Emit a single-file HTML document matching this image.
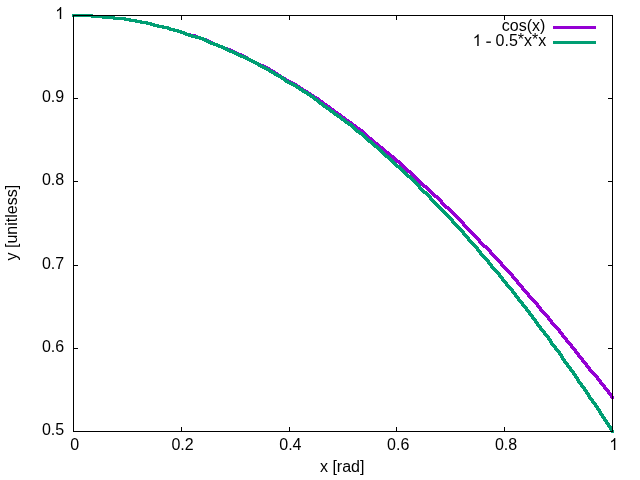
<!DOCTYPE html>
<html><head><meta charset="utf-8"><style>
html,body{margin:0;padding:0;background:#fff;}
svg{display:block;will-change:transform}
text{font-family:"Liberation Sans",sans-serif;font-size:16px;fill:#000}
</style></head><body>
<svg width="640" height="480" viewBox="0 0 640 480">
<rect width="640" height="480" fill="#fff"/>
<g shape-rendering="crispEdges">
<path fill="#9400d3" d="M72,14h21v1h-21zM72,15h32v1h-32zM72,16h43v1h-43zM91,17h35v1h-35zM102,18h29v1h-29zM113,19h24v1h-24zM124,20h18v1h-18zM129,21h19v1h-19zM135,22h17v1h-17zM140,23h15v1h-15zM146,24h13v1h-13zM150,25h14v1h-14zM153,26h16v1h-16zM157,27h14v1h-14zM162,28h13v1h-13zM167,29h12v1h-12zM169,30h13v1h-13zM173,31h12v1h-12zM177,32h10v1h-10zM180,33h11v1h-11zM183,34h13v1h-13zM185,35h13v1h-13zM189,36h12v1h-12zM194,37h10v1h-10zM196,38h11v1h-11zM199,39h10v1h-10zM202,40h9v1h-9zM205,41h8v1h-8zM207,42h8v1h-8zM209,43h9v1h-9zM211,44h9v1h-9zM213,45h10v1h-10zM216,46h9v1h-9zM218,47h10v1h-10zM221,48h10v1h-10zM223,49h10v1h-10zM226,50h9v1h-9zM229,51h8v1h-8zM231,52h8v1h-8zM233,53h9v1h-9zM235,54h9v1h-9zM237,55h9v1h-9zM240,56h8v1h-8zM242,57h7v1h-7zM244,58h7v1h-7zM246,59h7v1h-7zM247,60h8v1h-8zM249,61h8v1h-8zM251,62h8v1h-8zM253,63h8v1h-8zM255,64h9v1h-9zM257,65h9v1h-9zM259,66h9v1h-9zM262,67h8v1h-8zM264,68h7v1h-7zM266,69h7v1h-7zM268,70h7v1h-7zM269,71h7v1h-7zM271,72h7v1h-7zM273,73h6v1h-6zM274,74h7v1h-7zM276,75h6v1h-6zM277,76h7v1h-7zM279,77h7v1h-7zM280,78h7v1h-7zM282,79h7v1h-7zM284,80h7v1h-7zM285,81h8v1h-8zM287,82h8v1h-8zM289,83h8v1h-8zM291,84h7v1h-7zM293,85h7v1h-7zM295,86h6v1h-6zM296,87h7v1h-7zM298,88h6v1h-6zM299,89h7v1h-7zM301,90h7v1h-7zM302,91h7v1h-7zM304,92h7v1h-7zM306,93h6v1h-6zM307,94h7v1h-7zM309,95h6v1h-6zM310,96h7v1h-7zM312,97h7v1h-7zM313,98h7v1h-7zM315,99h6v1h-6zM317,100h6v1h-6zM318,101h6v1h-6zM319,102h6v1h-6zM321,103h6v1h-6zM322,104h6v1h-6zM323,105h7v1h-7zM325,106h6v1h-6zM326,107h6v1h-6zM328,108h6v1h-6zM329,109h6v1h-6zM330,110h6v1h-6zM332,111h6v1h-6zM333,112h6v1h-6zM334,113h7v1h-7zM336,114h6v1h-6zM337,115h6v1h-6zM339,116h6v1h-6zM340,117h6v1h-6zM341,118h6v1h-6zM343,119h6v1h-6zM344,120h6v1h-6zM345,121h7v1h-7zM347,122h6v1h-6zM348,123h6v1h-6zM350,124h6v1h-6zM351,125h6v1h-6zM352,126h6v1h-6zM354,127h6v1h-6zM355,128h6v1h-6zM356,129h7v1h-7zM358,130h6v1h-6zM359,131h6v1h-6zM361,132h5v1h-5zM362,133h5v1h-5zM363,134h5v1h-5zM364,135h5v1h-5zM365,136h5v1h-5zM366,137h6v1h-6zM367,138h6v1h-6zM368,139h6v1h-6zM370,140h5v1h-5zM371,141h5v1h-5zM372,142h6v1h-6zM373,143h6v1h-6zM374,144h6v1h-6zM376,145h5v1h-5zM377,146h6v1h-6zM378,147h6v1h-6zM379,148h6v1h-6zM381,149h5v1h-5zM382,150h5v1h-5zM383,151h6v1h-6zM384,152h6v1h-6zM385,153h6v1h-6zM387,154h5v1h-5zM388,155h6v1h-6zM389,156h6v1h-6zM390,157h6v1h-6zM392,158h5v1h-5zM393,159h5v1h-5zM394,160h6v1h-6zM395,161h6v1h-6zM396,162h6v1h-6zM398,163h5v1h-5zM399,164h5v1h-5zM400,165h5v1h-5zM401,166h5v1h-5zM402,167h5v1h-5zM403,168h5v1h-5zM404,169h5v1h-5zM405,170h6v1h-6zM406,171h6v1h-6zM407,172h6v1h-6zM409,173h5v1h-5zM410,174h5v1h-5zM411,175h5v1h-5zM412,176h5v1h-5zM413,177h5v1h-5zM414,178h5v1h-5zM415,179h5v1h-5zM416,180h5v1h-5zM417,181h5v1h-5zM418,182h5v1h-5zM419,183h5v1h-5zM420,184h5v1h-5zM421,185h6v1h-6zM422,186h6v1h-6zM423,187h6v1h-6zM425,188h5v1h-5zM426,189h5v1h-5zM427,190h5v1h-5zM428,191h5v1h-5zM429,192h5v1h-5zM430,193h5v1h-5zM431,194h5v1h-5zM432,195h6v1h-6zM433,196h6v1h-6zM434,197h6v1h-6zM436,198h5v1h-5zM437,199h5v1h-5zM438,200h5v1h-5zM439,201h4v1h-4zM440,202h4v1h-4zM440,203h5v1h-5zM441,204h5v1h-5zM442,205h5v1h-5zM443,206h6v1h-6zM444,207h6v1h-6zM445,208h6v1h-6zM447,209h5v1h-5zM448,210h5v1h-5zM449,211h5v1h-5zM450,212h5v1h-5zM451,213h5v1h-5zM452,214h5v1h-5zM453,215h5v1h-5zM454,216h5v1h-5zM455,217h5v1h-5zM456,218h5v1h-5zM457,219h5v1h-5zM458,220h5v1h-5zM459,221h5v1h-5zM460,222h5v1h-5zM461,223h4v1h-4zM462,224h4v1h-4zM462,225h5v1h-5zM463,226h5v1h-5zM464,227h5v1h-5zM465,228h5v1h-5zM466,229h5v1h-5zM467,230h5v1h-5zM468,231h5v1h-5zM469,232h5v1h-5zM470,233h5v1h-5zM471,234h5v1h-5zM472,235h5v1h-5zM473,236h5v1h-5zM474,237h5v1h-5zM475,238h5v1h-5zM476,239h5v1h-5zM477,240h4v1h-4zM478,241h4v1h-4zM478,242h5v1h-5zM479,243h5v1h-5zM480,244h5v1h-5zM481,245h6v1h-6zM482,246h6v1h-6zM483,247h6v1h-6zM485,248h5v1h-5zM486,249h5v1h-5zM487,250h5v1h-5zM488,251h4v1h-4zM489,252h4v1h-4zM489,253h5v1h-5zM490,254h5v1h-5zM491,255h5v1h-5zM492,256h5v1h-5zM493,257h5v1h-5zM494,258h5v1h-5zM495,259h5v1h-5zM496,260h5v1h-5zM497,261h5v1h-5zM498,262h5v1h-5zM499,263h4v1h-4zM500,264h4v1h-4zM500,265h5v1h-5zM501,266h5v1h-5zM502,267h5v1h-5zM503,268h5v1h-5zM504,269h5v1h-5zM505,270h5v1h-5zM506,271h5v1h-5zM507,272h5v1h-5zM508,273h5v1h-5zM509,274h5v1h-5zM510,275h4v1h-4zM511,276h4v1h-4zM511,277h5v1h-5zM512,278h5v1h-5zM513,279h5v1h-5zM514,280h5v1h-5zM515,281h4v1h-4zM516,282h4v1h-4zM516,283h5v1h-5zM517,284h5v1h-5zM518,285h5v1h-5zM519,286h5v1h-5zM520,287h4v1h-4zM521,288h4v1h-4zM521,289h5v1h-5zM522,290h5v1h-5zM523,291h5v1h-5zM524,292h5v1h-5zM525,293h5v1h-5zM526,294h4v1h-4zM527,295h4v1h-4zM527,296h5v1h-5zM528,297h5v1h-5zM529,298h5v1h-5zM530,299h5v1h-5zM531,300h5v1h-5zM532,301h5v1h-5zM533,302h5v1h-5zM534,303h5v1h-5zM535,304h4v1h-4zM536,305h4v1h-4zM536,306h5v1h-5zM537,307h5v1h-5zM538,308h4v1h-4zM539,309h4v1h-4zM539,310h5v1h-5zM540,311h5v1h-5zM541,312h5v1h-5zM542,313h5v1h-5zM543,314h5v1h-5zM544,315h5v1h-5zM545,316h5v1h-5zM546,317h4v1h-4zM547,318h4v1h-4zM547,319h5v1h-5zM548,320h5v1h-5zM549,321h4v1h-4zM550,322h4v1h-4zM550,323h5v1h-5zM551,324h5v1h-5zM552,325h5v1h-5zM553,326h5v1h-5zM554,327h5v1h-5zM555,328h5v1h-5zM556,329h5v1h-5zM557,330h4v1h-4zM558,331h4v1h-4zM558,332h5v1h-5zM559,333h5v1h-5zM560,334h4v1h-4zM561,335h4v1h-4zM561,336h5v1h-5zM562,337h5v1h-5zM563,338h5v1h-5zM564,339h4v1h-4zM565,340h4v1h-4zM565,341h5v1h-5zM566,342h5v1h-5zM567,343h5v1h-5zM568,344h5v1h-5zM569,345h4v1h-4zM570,346h4v1h-4zM570,347h5v1h-5zM571,348h5v1h-5zM572,349h5v1h-5zM573,350h4v1h-4zM574,351h4v1h-4zM574,352h5v1h-5zM575,353h5v1h-5zM576,354h4v1h-4zM577,355h4v1h-4zM577,356h5v1h-5zM578,357h5v1h-5zM579,358h5v1h-5zM580,359h4v1h-4zM581,360h4v1h-4zM581,361h5v1h-5zM582,362h5v1h-5zM583,363h5v1h-5zM584,364h4v1h-4zM585,365h4v1h-4zM585,366h5v1h-5zM586,367h5v1h-5zM587,368h4v1h-4zM588,369h4v1h-4zM588,370h5v1h-5zM589,371h5v1h-5zM590,372h5v1h-5zM591,373h5v1h-5zM592,374h5v1h-5zM593,375h5v1h-5zM594,376h5v1h-5zM595,377h4v1h-4zM596,378h4v1h-4zM596,379h5v1h-5zM597,380h5v1h-5zM598,381h4v1h-4zM599,382h4v1h-4zM599,383h5v1h-5zM600,384h5v1h-5zM601,385h5v1h-5zM602,386h4v1h-4zM603,387h4v1h-4zM603,388h5v1h-5zM604,389h5v1h-5zM605,390h5v1h-5zM606,391h4v1h-4zM607,392h4v1h-4zM607,393h5v1h-5zM608,394h5v1h-5zM609,395h4v1h-4zM610,396h4v1h-4zM610,397h4v1h-4zM611,398h3v1h-3z"/>
<rect x="553" y="26" width="43" height="3" fill="#9400d3"/>
<path fill="#009e73" d="M72,14h21v1h-21zM72,15h32v1h-32zM72,16h43v1h-43zM91,17h35v1h-35zM102,18h29v1h-29zM113,19h24v1h-24zM124,20h18v1h-18zM129,21h19v1h-19zM135,22h17v1h-17zM140,23h15v1h-15zM146,24h13v1h-13zM150,25h14v1h-14zM153,26h16v1h-16zM157,27h14v1h-14zM162,28h13v1h-13zM167,29h12v1h-12zM169,30h13v1h-13zM173,31h12v1h-12zM177,32h10v1h-10zM180,33h10v1h-10zM183,34h10v1h-10zM185,35h12v1h-12zM188,36h13v1h-13zM191,37h13v1h-13zM195,38h11v1h-11zM199,39h9v1h-9zM202,40h8v1h-8zM204,41h8v1h-8zM206,42h9v1h-9zM208,43h10v1h-10zM210,44h10v1h-10zM213,45h10v1h-10zM216,46h9v1h-9zM218,47h9v1h-9zM221,48h8v1h-8zM223,49h8v1h-8zM225,50h9v1h-9zM227,51h9v1h-9zM229,52h9v1h-9zM232,53h8v1h-8zM234,54h8v1h-8zM236,55h9v1h-9zM238,56h9v1h-9zM240,57h9v1h-9zM243,58h8v1h-8zM245,59h8v1h-8zM247,60h8v1h-8zM249,61h8v1h-8zM251,62h8v1h-8zM253,63h7v1h-7zM255,64h7v1h-7zM257,65h7v1h-7zM258,66h8v1h-8zM260,67h8v1h-8zM262,68h8v1h-8zM264,69h7v1h-7zM266,70h7v1h-7zM268,71h7v1h-7zM269,72h7v1h-7zM271,73h7v1h-7zM273,74h7v1h-7zM274,75h8v1h-8zM276,76h7v1h-7zM278,77h7v1h-7zM280,78h6v1h-6zM281,79h6v1h-6zM283,80h6v1h-6zM284,81h7v1h-7zM285,82h8v1h-8zM287,83h8v1h-8zM289,84h8v1h-8zM291,85h7v1h-7zM293,86h7v1h-7zM295,87h6v1h-6zM296,88h7v1h-7zM298,89h6v1h-6zM299,90h7v1h-7zM301,91h7v1h-7zM302,92h7v1h-7zM304,93h7v1h-7zM306,94h6v1h-6zM307,95h7v1h-7zM309,96h6v1h-6zM310,97h6v1h-6zM312,98h6v1h-6zM313,99h6v1h-6zM314,100h6v1h-6zM316,101h5v1h-5zM317,102h6v1h-6zM318,103h6v1h-6zM319,104h6v1h-6zM321,105h6v1h-6zM322,106h6v1h-6zM323,107h7v1h-7zM325,108h6v1h-6zM326,109h6v1h-6zM328,110h6v1h-6zM329,111h6v1h-6zM330,112h6v1h-6zM332,113h6v1h-6zM333,114h6v1h-6zM334,115h7v1h-7zM336,116h6v1h-6zM337,117h6v1h-6zM339,118h6v1h-6zM340,119h6v1h-6zM341,120h6v1h-6zM343,121h6v1h-6zM344,122h6v1h-6zM345,123h7v1h-7zM347,124h6v1h-6zM348,125h6v1h-6zM350,126h5v1h-5zM351,127h5v1h-5zM352,128h5v1h-5zM353,129h5v1h-5zM354,130h6v1h-6zM355,131h6v1h-6zM356,132h7v1h-7zM358,133h6v1h-6zM359,134h6v1h-6zM361,135h5v1h-5zM362,136h5v1h-5zM363,137h5v1h-5zM364,138h5v1h-5zM365,139h5v1h-5zM366,140h6v1h-6zM367,141h6v1h-6zM368,142h6v1h-6zM370,143h5v1h-5zM371,144h5v1h-5zM372,145h6v1h-6zM373,146h6v1h-6zM374,147h6v1h-6zM376,148h5v1h-5zM377,149h5v1h-5zM378,150h5v1h-5zM379,151h5v1h-5zM380,152h5v1h-5zM381,153h5v1h-5zM382,154h5v1h-5zM383,155h6v1h-6zM384,156h6v1h-6zM385,157h6v1h-6zM387,158h5v1h-5zM388,159h5v1h-5zM389,160h5v1h-5zM390,161h5v1h-5zM391,162h5v1h-5zM392,163h5v1h-5zM393,164h5v1h-5zM394,165h6v1h-6zM395,166h6v1h-6zM396,167h6v1h-6zM398,168h5v1h-5zM399,169h5v1h-5zM400,170h5v1h-5zM401,171h5v1h-5zM402,172h5v1h-5zM403,173h5v1h-5zM404,174h5v1h-5zM405,175h6v1h-6zM406,176h6v1h-6zM407,177h6v1h-6zM409,178h5v1h-5zM410,179h5v1h-5zM411,180h5v1h-5zM412,181h5v1h-5zM413,182h5v1h-5zM414,183h5v1h-5zM415,184h5v1h-5zM416,185h5v1h-5zM417,186h4v1h-4zM418,187h4v1h-4zM418,188h5v1h-5zM419,189h5v1h-5zM420,190h5v1h-5zM421,191h6v1h-6zM422,192h6v1h-6zM423,193h6v1h-6zM425,194h5v1h-5zM426,195h5v1h-5zM427,196h5v1h-5zM428,197h4v1h-4zM429,198h4v1h-4zM429,199h5v1h-5zM430,200h5v1h-5zM431,201h5v1h-5zM432,202h5v1h-5zM433,203h5v1h-5zM434,204h5v1h-5zM435,205h5v1h-5zM436,206h5v1h-5zM437,207h5v1h-5zM438,208h5v1h-5zM439,209h5v1h-5zM440,210h5v1h-5zM441,211h5v1h-5zM442,212h5v1h-5zM443,213h5v1h-5zM444,214h5v1h-5zM445,215h5v1h-5zM446,216h5v1h-5zM447,217h5v1h-5zM448,218h5v1h-5zM449,219h5v1h-5zM450,220h4v1h-4zM451,221h4v1h-4zM451,222h5v1h-5zM452,223h5v1h-5zM453,224h5v1h-5zM454,225h5v1h-5zM455,226h5v1h-5zM456,227h5v1h-5zM457,228h5v1h-5zM458,229h5v1h-5zM459,230h5v1h-5zM460,231h5v1h-5zM461,232h4v1h-4zM462,233h4v1h-4zM462,234h5v1h-5zM463,235h5v1h-5zM464,236h5v1h-5zM465,237h5v1h-5zM466,238h4v1h-4zM467,239h4v1h-4zM467,240h5v1h-5zM468,241h5v1h-5zM469,242h5v1h-5zM470,243h5v1h-5zM471,244h5v1h-5zM472,245h5v1h-5zM473,246h5v1h-5zM474,247h5v1h-5zM475,248h4v1h-4zM476,249h4v1h-4zM476,250h5v1h-5zM477,251h5v1h-5zM478,252h4v1h-4zM479,253h4v1h-4zM479,254h5v1h-5zM480,255h5v1h-5zM481,256h5v1h-5zM482,257h5v1h-5zM483,258h5v1h-5zM484,259h5v1h-5zM485,260h5v1h-5zM486,261h4v1h-4zM487,262h4v1h-4zM487,263h5v1h-5zM488,264h5v1h-5zM489,265h4v1h-4zM490,266h4v1h-4zM490,267h5v1h-5zM491,268h5v1h-5zM492,269h5v1h-5zM493,270h5v1h-5zM494,271h5v1h-5zM495,272h5v1h-5zM496,273h5v1h-5zM497,274h4v1h-4zM498,275h4v1h-4zM498,276h5v1h-5zM499,277h5v1h-5zM500,278h4v1h-4zM501,279h4v1h-4zM501,280h5v1h-5zM502,281h5v1h-5zM503,282h5v1h-5zM504,283h4v1h-4zM505,284h4v1h-4zM505,285h5v1h-5zM506,286h5v1h-5zM507,287h5v1h-5zM508,288h5v1h-5zM509,289h5v1h-5zM510,290h4v1h-4zM511,291h4v1h-4zM511,292h5v1h-5zM512,293h5v1h-5zM513,294h4v1h-4zM514,295h4v1h-4zM514,296h5v1h-5zM515,297h5v1h-5zM516,298h4v1h-4zM517,299h4v1h-4zM517,300h5v1h-5zM518,301h5v1h-5zM519,302h5v1h-5zM520,303h4v1h-4zM521,304h4v1h-4zM521,305h5v1h-5zM522,306h5v1h-5zM523,307h5v1h-5zM524,308h4v1h-4zM525,309h4v1h-4zM525,310h5v1h-5zM526,311h5v1h-5zM527,312h4v1h-4zM528,313h4v1h-4zM528,314h5v1h-5zM529,315h5v1h-5zM530,316h4v1h-4zM531,317h4v1h-4zM531,318h5v1h-5zM532,319h5v1h-5zM533,320h4v1h-4zM534,321h4v1h-4zM534,322h5v1h-5zM535,323h4v1h-4zM536,324h4v1h-4zM536,325h5v1h-5zM537,326h5v1h-5zM538,327h4v1h-4zM539,328h4v1h-4zM539,329h5v1h-5zM540,330h5v1h-5zM541,331h5v1h-5zM542,332h4v1h-4zM543,333h4v1h-4zM543,334h5v1h-5zM544,335h5v1h-5zM545,336h5v1h-5zM546,337h4v1h-4zM547,338h4v1h-4zM547,339h5v1h-5zM548,340h4v1h-4zM549,341h4v1h-4zM549,342h4v1h-4zM550,343h4v1h-4zM550,344h5v1h-5zM551,345h5v1h-5zM552,346h5v1h-5zM553,347h4v1h-4zM554,348h4v1h-4zM554,349h5v1h-5zM555,350h5v1h-5zM556,351h5v1h-5zM557,352h4v1h-4zM558,353h4v1h-4zM558,354h5v1h-5zM559,355h4v1h-4zM560,356h4v1h-4zM560,357h4v1h-4zM561,358h4v1h-4zM561,359h5v1h-5zM562,360h4v1h-4zM563,361h4v1h-4zM563,362h5v1h-5zM564,363h5v1h-5zM565,364h4v1h-4zM566,365h4v1h-4zM566,366h5v1h-5zM567,367h5v1h-5zM568,368h4v1h-4zM569,369h4v1h-4zM569,370h5v1h-5zM570,371h5v1h-5zM571,372h4v1h-4zM572,373h4v1h-4zM572,374h5v1h-5zM573,375h4v1h-4zM574,376h4v1h-4zM574,377h5v1h-5zM575,378h4v1h-4zM576,379h4v1h-4zM576,380h4v1h-4zM577,381h4v1h-4zM577,382h5v1h-5zM578,383h5v1h-5zM579,384h4v1h-4zM580,385h4v1h-4zM580,386h5v1h-5zM581,387h5v1h-5zM582,388h4v1h-4zM583,389h4v1h-4zM583,390h5v1h-5zM584,391h4v1h-4zM585,392h4v1h-4zM585,393h5v1h-5zM586,394h4v1h-4zM587,395h4v1h-4zM587,396h4v1h-4zM588,397h4v1h-4zM588,398h5v1h-5zM589,399h5v1h-5zM590,400h4v1h-4zM591,401h4v1h-4zM591,402h5v1h-5zM592,403h5v1h-5zM593,404h4v1h-4zM594,405h4v1h-4zM594,406h5v1h-5zM595,407h4v1h-4zM596,408h4v1h-4zM596,409h5v1h-5zM597,410h4v1h-4zM598,411h4v1h-4zM598,412h4v1h-4zM599,413h4v1h-4zM599,414h5v1h-5zM600,415h4v1h-4zM601,416h4v1h-4zM601,417h5v1h-5zM602,418h4v1h-4zM603,419h4v1h-4zM603,420h5v1h-5zM604,421h4v1h-4zM605,422h4v1h-4zM605,423h5v1h-5zM606,424h4v1h-4zM607,425h4v1h-4zM607,426h5v1h-5zM608,427h4v1h-4zM609,428h4v1h-4zM609,429h4v1h-4zM610,430h4v1h-4zM610,431h4v1h-4zM611,432h3v1h-3z"/>
<rect x="553" y="41" width="43" height="3" fill="#009e73"/>
</g>
<g fill="#000" shape-rendering="crispEdges">
<rect x="73" y="431" width="5" height="1"/><rect x="608" y="431" width="5" height="1"/><rect x="73" y="427" width="1" height="5"/><rect x="73" y="15" width="1" height="5"/><rect x="73" y="348" width="5" height="1"/><rect x="608" y="348" width="5" height="1"/><rect x="181" y="427" width="1" height="5"/><rect x="181" y="15" width="1" height="5"/><rect x="73" y="265" width="5" height="1"/><rect x="608" y="265" width="5" height="1"/><rect x="289" y="427" width="1" height="5"/><rect x="289" y="15" width="1" height="5"/><rect x="73" y="181" width="5" height="1"/><rect x="608" y="181" width="5" height="1"/><rect x="396" y="427" width="1" height="5"/><rect x="396" y="15" width="1" height="5"/><rect x="73" y="98" width="5" height="1"/><rect x="608" y="98" width="5" height="1"/><rect x="504" y="427" width="1" height="5"/><rect x="504" y="15" width="1" height="5"/><rect x="73" y="15" width="5" height="1"/><rect x="608" y="15" width="5" height="1"/><rect x="612" y="427" width="1" height="5"/><rect x="612" y="15" width="1" height="5"/>
<rect x="73" y="15" width="540" height="1"/><rect x="73" y="431" width="540" height="1"/>
<rect x="73" y="15" width="1" height="417"/><rect x="612" y="15" width="1" height="417"/>
</g>
<text x="64.2" y="435.0" text-anchor="end">0.5</text><text x="64.2" y="351.8" text-anchor="end">0.6</text><text x="64.2" y="268.6" text-anchor="end">0.7</text><text x="64.2" y="185.4" text-anchor="end">0.8</text><text x="64.2" y="102.2" text-anchor="end">0.9</text><path transform="translate(55.25,19.00) scale(0.0078125,-0.0080859375)" d="M763 0H583V1147Q518 1085 412.5 1023T223 930V1104Q374 1175 487 1276T647 1472H763Z" fill="#000"/><text x="74.8" y="450" text-anchor="middle">0</text><text x="182.6" y="450" text-anchor="middle">0.2</text><text x="290.4" y="450" text-anchor="middle">0.4</text><text x="398.2" y="450" text-anchor="middle">0.6</text><text x="506.0" y="450" text-anchor="middle">0.8</text><path transform="translate(609.35,450.00) scale(0.0078125,-0.0080859375)" d="M763 0H583V1147Q518 1085 412.5 1023T223 930V1104Q374 1175 487 1276T647 1472H763Z" fill="#000"/><path transform="translate(472.70,46.10) scale(0.0078125,-0.0080859375)" d="M763 0H583V1147Q518 1085 412.5 1023T223 930V1104Q374 1175 487 1276T647 1472H763Z" fill="#000"/>
<text x="545.4" y="31.3" text-anchor="end">cos(x)</text>
<rect x="486.3" y="41.5" width="4.6" height="1.35" fill="#000"/><text x="546.3" y="46.1" text-anchor="end">0.5<tspan dy="-0.9">*</tspan><tspan dy="0.9">x</tspan><tspan dy="-0.9">*</tspan><tspan dy="0.9">x</tspan></text>
<text x="342.2" y="471.5" text-anchor="middle">x [rad]</text>
<text transform="translate(17,222.7) rotate(-90)" text-anchor="middle">y [unitless]</text>
</svg>
</body></html>
